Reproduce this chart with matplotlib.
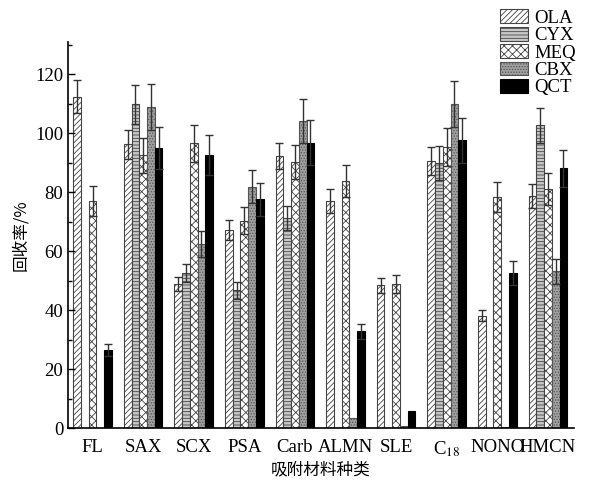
import matplotlib
matplotlib.use("Agg")
import matplotlib.pyplot as plt
import numpy as np

plt.rcParams['hatch.linewidth'] = 0.6
plt.rcParams['mathtext.fontset'] = 'stix'

categories = ["FL", "SAX", "SCX", "PSA", "Carb", "ALMN", "SLE", r"C$_{18}$", "NONO", "HMCN"]
series = ["OLA", "CYX", "MEQ", "CBX", "QCT"]

OLA = [112.5, 96.3, 48.9, 67.1, 92.3, 77.0, 48.4, 90.6, 38.1, 78.7]
CYX = [0.0, 109.8, 52.6, 46.7, 71.3, 0.0, 0.0, 90.0, 0.0, 102.7]
MEQ = [77.2, 92.6, 96.6, 70.4, 90.2, 83.8, 48.9, 95.3, 78.5, 81.2]
CBX = [0.0, 109.1, 62.5, 81.9, 104.2, 3.5, 0.8, 109.9, 0.5, 53.2]
QCT = [26.5, 95.0, 92.6, 77.6, 96.8, 32.8, 5.8, 97.7, 52.6, 88.2]

OLA_err = [5.5, 4.9, 2.3, 3.4, 4.5, 4.0, 2.5, 4.7, 1.8, 4.2]
CYX_err = [0.0, 6.6, 3.1, 2.8, 4.2, 0.0, 0.0, 5.7, 0.0, 6.0]
MEQ_err = [5.1, 5.9, 6.2, 4.5, 5.8, 5.4, 3.1, 6.4, 5.1, 5.4]
CBX_err = [0.0, 7.8, 4.3, 5.6, 7.4, 0.0, 0.0, 7.9, 0.0, 4.2]
QCT_err = [2.0, 7.2, 6.8, 5.6, 7.6, 2.5, 0.0, 7.6, 4.0, 6.3]

values = [OLA, CYX, MEQ, CBX, QCT]
errors = [OLA_err, CYX_err, MEQ_err, CBX_err, QCT_err]

styles = [
    dict(facecolor="white", hatch="//////", edgecolor="#444444"),
    dict(facecolor="#c8c8c8", hatch="-----", edgecolor="#444444"),
    dict(facecolor="white", hatch="xxxx", edgecolor="#444444"),
    dict(facecolor="#a0a0a0", hatch="......", edgecolor="#555555"),
    dict(facecolor="black", hatch=None, edgecolor="black"),
]

serif = ['Liberation Serif', 'DejaVu Serif']
cjk = ['Noto Sans CJK SC', 'DejaVu Sans']

fig = plt.figure(figsize=(5.9, 4.84), dpi=100)
ax = fig.add_axes([0.1153, 0.1157, 0.8576, 0.7975])

x = np.arange(len(categories))
w = 0.153
for j, (name, vals, errs, st) in enumerate(zip(series, values, errors, styles)):
    pos = x + (j - 2) * w
    ax.bar(pos, vals, width=w, label=name, linewidth=0.8, **st)
    mask = np.array(errs) > 0
    ax.errorbar(pos[mask], np.array(vals)[mask], yerr=np.array(errs)[mask],
                fmt="none", ecolor="#333333", elinewidth=1.0, capsize=3, capthick=1.0)

ax.set_xlim(-0.484, 9.516)
ax.set_ylim(0, 131)
ax.set_yticks([0, 20, 40, 60, 80, 100, 120])
ax.set_yticks(np.arange(10, 131, 20), minor=True)
ax.tick_params(axis='y', which='major', direction='in', length=5, width=1)
ax.tick_params(axis='y', which='minor', direction='in', length=3, width=1)
ax.tick_params(axis='x', length=0, pad=8)
ax.set_xticks(x)
ax.set_xticklabels(categories)
for lab in ax.get_xticklabels() + ax.get_yticklabels():
    lab.set_family(serif)
    lab.set_fontsize(13.5)

ax.spines['top'].set_visible(False)
ax.spines['right'].set_visible(False)
ax.spines['left'].set_linewidth(1.2)
ax.spines['bottom'].set_linewidth(1.2)

ax.set_ylabel("回收率/%", family=cjk, fontsize=12, labelpad=4)
ax.set_xlabel("吸附材料种类", family=cjk, fontsize=12, labelpad=2)

leg = ax.legend(loc='upper right', bbox_to_anchor=(1.018, 1.104), frameon=False,
                prop={'family': serif, 'size': 13.5}, handlelength=1.5, handleheight=0.75,
                labelspacing=0.0, handletextpad=0.3, borderaxespad=0.0)

fig.savefig("out.png", dpi=100)
